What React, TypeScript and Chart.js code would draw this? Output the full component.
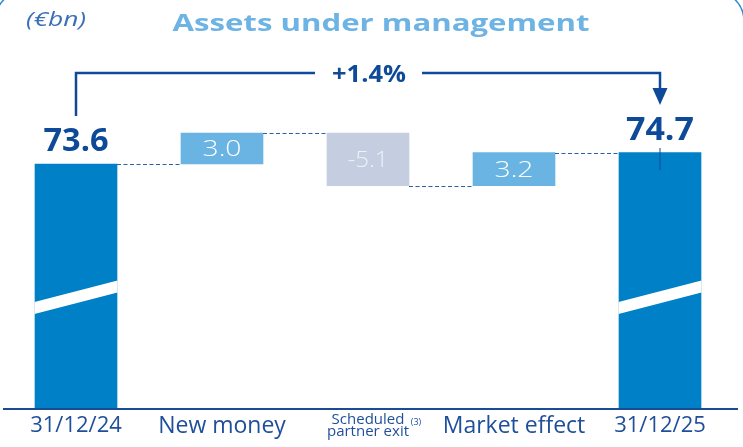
import React, { useEffect, useRef } from 'react';
import { Chart, registerables } from 'chart.js';

Chart.register(...registerables);

// ---- data ----
const categories: (string | string[])[] = ['31/12/24', 'New money', ['Scheduled', 'partner exit'], 'Market effect', '31/12/25'];
const openingValue = 73.6;
const movements = [3.0, -5.1, 3.2];
const closingValue = 74.7;
const axisMin = 50;
const axisMax = 80;
const valueLabels = ['73.6', '3.0', '-5.1', '3.2', '74.7'];
const changeLabel = '+1.4%';
const footnoteLabel = '(3)';
const titleText = 'Assets under management';
const unitText = '(€bn)';

const FONT = '"Open Sans", "Noto Sans", sans-serif';
const C_TOTAL = '#0080C6';
const C_UP = '#6AB4E3';
const C_DOWN = '#C5CEE0';
const C_NAVY = '#0E4A98';
const C_TICK = '#1F4F9A';
const C_TITLE = '#6DB3E3';

// floating ranges built from the values
const ranges: [number, number][] = [];
ranges.push([axisMin, openingValue]);
let running = openingValue;
movements.forEach((m) => {
  const next = Math.round((running + m) * 10) / 10;
  ranges.push([running, next]);
  running = next;
});
ranges.push([axisMin, closingValue]);

const barColors = ranges.map((_, i) => {
  if (i === 0 || i === ranges.length - 1) return C_TOTAL;
  return movements[i - 1] >= 0 ? C_UP : C_DOWN;
});

// draws text centred on cx; optionally widened to a target width (wide geometric face look)
function drawText(
  ctx: CanvasRenderingContext2D,
  text: string,
  cx: number,
  baseline: number,
  font: string,
  color: string,
  targetWidth?: number
) {
  ctx.save();
  ctx.font = font;
  ctx.fillStyle = color;
  ctx.textAlign = 'center';
  ctx.textBaseline = 'alphabetic';
  let sx = 1;
  if (targetWidth) {
    const w = ctx.measureText(text).width;
    sx = Math.min(1.35, Math.max(0.8, targetWidth / w));
  }
  ctx.translate(cx, baseline);
  ctx.scale(sx, 1);
  ctx.fillText(text, 0, 0);
  ctx.restore();
}

const decorPlugin = {
  id: 'decor',
  afterDatasetsDraw(chart: any) {
    const ctx: CanvasRenderingContext2D = chart.ctx;
    const yScale = chart.scales.y;
    const area = chart.chartArea;
    const bars = chart.getDatasetMeta(0).data as any[];
    const n = bars.length;

    // break marks on the total bars
    const breakPx = yScale.getPixelForValue(60.7);
    [0, n - 1].forEach((i) => {
      const b = bars[i];
      const l = b.x - b.width / 2 - 0.5;
      const r = b.x + b.width / 2 + 0.5;
      ctx.save();
      ctx.fillStyle = '#ffffff';
      ctx.beginPath();
      ctx.moveTo(l, breakPx + 10.75 - 6);
      ctx.lineTo(r, breakPx - 10.75 - 6);
      ctx.lineTo(r, breakPx - 10.75 + 6);
      ctx.lineTo(l, breakPx + 10.75 + 6);
      ctx.closePath();
      ctx.fill();
      ctx.restore();
    });

    // axis line
    ctx.save();
    ctx.strokeStyle = '#1A4B95';
    ctx.lineWidth = 2;
    ctx.beginPath();
    ctx.moveTo(3, area.bottom + 1);
    ctx.lineTo(738, area.bottom + 1);
    ctx.stroke();
    ctx.restore();

    // dashed connectors
    ctx.save();
    ctx.strokeStyle = '#2C5FA8';
    ctx.lineWidth = 1;
    ctx.setLineDash([4, 2.5]);
    for (let i = 0; i < n - 1; i++) {
      const y = Math.round(yScale.getPixelForValue(ranges[i][1])) + 0.5;
      ctx.beginPath();
      ctx.moveTo(bars[i].x + bars[i].width / 2, y);
      ctx.lineTo(bars[i + 1].x - bars[i + 1].width / 2, y);
      ctx.stroke();
    }
    ctx.restore();

    // value labels
    bars.forEach((b, i) => {
      const top = Math.min(b.y, b.base);
      const bottom = Math.max(b.y, b.base);
      if (i === 0 || i === n - 1) {
        drawText(ctx, valueLabels[i], b.x, top - 12.5, `bold 32px ${FONT}`, C_NAVY, i === 0 ? 65 : 68);
      } else {
        const mid = (top + bottom) / 2;
        const col = movements[i - 1] >= 0 ? '#ffffff' : '#EEF1F7';
        drawText(ctx, valueLabels[i], b.x, mid + 8, `300 22px ${FONT}`, col, valueLabels[i].length > 3 ? 41 : 39);
      }
    });

    // bracket with arrow
    const lx = bars[0].x;
    const rx = bars[n - 1].x;
    const by = 73;
    ctx.save();
    ctx.strokeStyle = C_NAVY;
    ctx.fillStyle = C_NAVY;
    ctx.lineWidth = 2.5;
    ctx.beginPath();
    ctx.moveTo(lx, 116);
    ctx.lineTo(lx, by);
    ctx.lineTo(315, by);
    ctx.moveTo(422, by);
    ctx.lineTo(rx, by);
    ctx.lineTo(rx, 90);
    ctx.stroke();
    ctx.beginPath();
    ctx.moveTo(rx - 7.5, 88);
    ctx.lineTo(rx + 7.5, 88);
    ctx.lineTo(rx, 105);
    ctx.closePath();
    ctx.fill();
    // small tick on closing bar
    ctx.lineWidth = 1;
    ctx.beginPath();
    ctx.moveTo(rx, 148);
    ctx.lineTo(rx, 170);
    ctx.stroke();
    ctx.restore();
    drawText(ctx, changeLabel, 369, 82, `bold 24px ${FONT}`, C_NAVY, 74);

    // title and unit
    drawText(ctx, titleText, 381, 30.5, `bold 24px ${FONT}`, C_TITLE, 417);
    drawText(ctx, unitText, 56, 26, `italic 20px ${FONT}`, '#3B6FB6', 60);

    // footnote superscript on third category
    drawText(ctx, footnoteLabel, bars[2].x + 48, 425, `9px ${FONT}`, C_TICK);

    // card corner outline
    ctx.save();
    ctx.strokeStyle = '#2A8ACB';
    ctx.lineWidth = 1.5;
    ctx.beginPath();
    (ctx as any).roundRect(-5, -9, 749, 520, 30);
    ctx.stroke();
    ctx.restore();
  },
};

export default function App() {
  const canvasRef = useRef<HTMLCanvasElement | null>(null);

  useEffect(() => {
    if (!canvasRef.current) return;
    const chart = new Chart(canvasRef.current, {
      type: 'bar',
      data: {
        labels: categories,
        datasets: [
          {
            data: ranges as any,
            backgroundColor: barColors,
            borderWidth: 0,
            barThickness: 82,
          },
        ],
      },
      options: {
        animation: false,
        responsive: false,
        devicePixelRatio: 1,
        layout: { padding: { top: 97.8, left: 3, right: 10, bottom: 0 } },
        plugins: { legend: { display: false }, tooltip: { enabled: false }, title: { display: false } },
        scales: {
          x: {
            grid: { display: false, drawTicks: false },
            border: { display: false },
            afterFit: (s: any) => {
              s.height = 39;
            },
            ticks: {
              color: C_TICK,
              padding: 5,
              maxRotation: 0,
              autoSkip: false,
              font: (c: any) =>
                c.index === 2
                  ? { family: FONT, size: 15, lineHeight: 0.85 }
                  : c.index === 0 || c.index === 4
                  ? { family: FONT, size: 22, lineHeight: 1.2 }
                  : { family: FONT, size: 23, lineHeight: 1.2 },
            },
          },
          y: { display: false, min: axisMin, max: axisMax },
        },
      },
      plugins: [decorPlugin],
    });
    return () => chart.destroy();
  }, []);

  return (
    <div style={{ position: 'fixed', left: 0, top: 0, width: 743, height: 447, background: '#fff' }}>
      <canvas ref={canvasRef} width={743} height={447} style={{ display: 'block', width: 743, height: 447 }} />
    </div>
  );
}
